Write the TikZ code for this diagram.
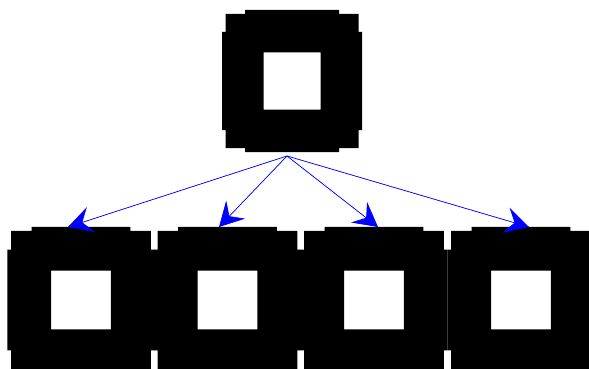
\documentclass[tikz,border=0pt]{standalone}
\usetikzlibrary{arrows.meta}

\tikzset{ring/.style={fill=black,even odd rule},
  fanline/.style={->,draw=blue,fill=blue,line width=0.7pt}}
% stepped square ring: name, x, y, xscale, yscale
\newcommand{\stepring}[5]{%
  \coordinate (#1) at (#2,#3);
  \begin{scope}[shift={(#1)},xscale=#4,yscale=#5]
  \fill[ring] (-47,-71)--(47,-71)--(47,-67)--(66.5,-67)--(66.5,-49)--(70,-49)--(70,49)--(66.5,49)--(66.5,67)--(47,67)--(47,71)--(-47,71)--(-47,67)--(-66.5,67)--(-66.5,49)--(-70,49)--(-70,-49)--(-66.5,-49)--(-66.5,-67)--(-47,-67)--cycle
    (-28.5,-28.5) rectangle (28.5,28.5);
  \end{scope}}

\begin{document}
\begin{tikzpicture}[x=1pt,y=-1pt,>={Stealth[length=24pt,width=26pt,inset=9pt]}]
\useasboundingbox (0,0) rectangle (589,369);
\stepring{top}{292}{81}{1}{1}
\foreach \i/\x in {1/81,2/227.5,3/374,4/521}{\stepring{r\i}{\x}{300}{1.05}{1.03}}
\coordinate (fan) at (287,156);
\foreach \i/\x in {1/68,2/219,3/378,4/529}{\coordinate (t\i) at (\x,227);\draw[fanline] (fan)--(t\i);}
\end{tikzpicture}
\end{document}
